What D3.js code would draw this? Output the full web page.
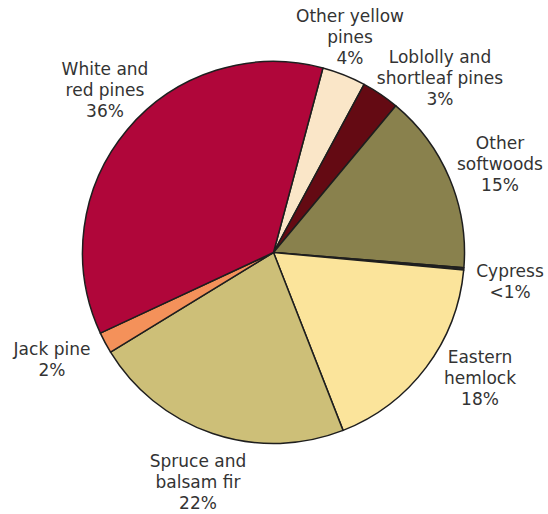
<!DOCTYPE html>
<html>
<head>
<meta charset="utf-8">
<script src="https://cdn.jsdelivr.net/npm/d3@7"></script>
<style>
  html, body { margin: 0; padding: 0; background: #fff; }
  svg { display: block; }
</style>
</head>
<body>
<svg id="chart" width="548" height="514"></svg>
<script>
const categories = ["Other yellow pines", "Loblolly and shortleaf pines", "Other softwoods", "Cypress", "Eastern hemlock", "Spruce and balsam fir", "Jack pine", "White and red pines"];
const values = [3.7, 3.2, 15.2, 0.2, 17.6, 22.2, 1.8, 36.1];
const valueLabels = ["4%", "3%", "15%", "<1%", "18%", "22%", "2%", "36%"];
const labelLines = [
  ["Other yellow", "pines"],
  ["Loblolly and", "shortleaf pines"],
  ["Other", "softwoods"],
  ["Cypress"],
  ["Eastern", "hemlock"],
  ["Spruce and", "balsam fir"],
  ["Jack pine"],
  ["White and", "red pines"]
];
const colors = ["#fae6c8", "#640a13", "#89814d", "#2a2a2a", "#fbe49b", "#cdbf78", "#f4915a", "#b0063a"];
// label anchor (center x, first baseline y)
const labelPos = [[350, 22], [440, 63], [500, 149], [510, 277], [480, 363], [198, 467], [52, 355], [105, 75]];

const svg = d3.select("#chart");
const cx = 273.5, cy = 252.5, r = 191;
const startAngle = 15 * Math.PI / 180;

const pie = d3.pie().sort(null).value(d => d)
  .startAngle(startAngle).endAngle(startAngle + 2 * Math.PI);
const arcs = pie(values);
const arc = d3.arc().innerRadius(0).outerRadius(r);

const g = svg.append("g").attr("transform", `translate(${cx},${cy})`);
g.selectAll("path").data(arcs).enter().append("path")
  .attr("d", arc)
  .attr("fill", (d, i) => colors[i])
  .attr("stroke", "#1e1e1e")
  .attr("stroke-width", 1.5)
  .attr("stroke-linejoin", "round");

const lh = 21;
categories.forEach((c, i) => {
  const lines = labelLines[i].concat([valueLabels[i]]);
  const t = svg.append("text")
    .attr("text-anchor", "middle")
    .attr("font-family", "'DejaVu Sans', sans-serif")
    .attr("font-size", "17px")
    .attr("fill", "#333");
  lines.forEach((l, j) => {
    t.append("tspan").attr("x", labelPos[i][0]).attr("y", labelPos[i][1] + j * lh).text(l);
  });
});
</script>
</body>
</html>
